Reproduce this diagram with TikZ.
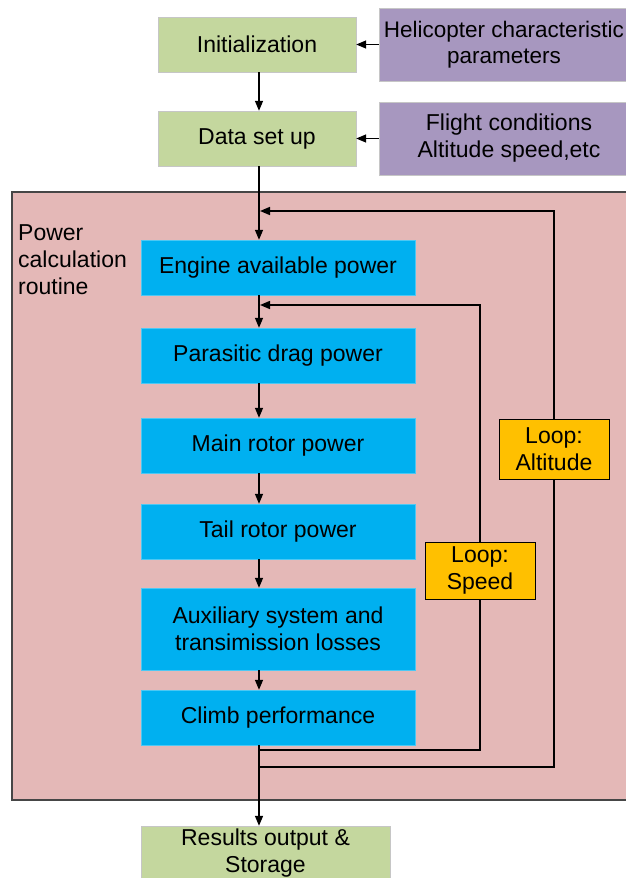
\documentclass[tikz,border=0pt]{standalone}
\usepackage{fontspec}
\setmainfont{Liberation Sans}
\usetikzlibrary{arrows.meta, positioning}
\definecolor{stagegreen}{HTML}{C4D79E}
\definecolor{inputpurple}{HTML}{A797BF}
\definecolor{routinepink}{HTML}{E4B8B7}
\definecolor{calcblue}{HTML}{00B0F0}
\definecolor{looporange}{HTML}{FFC000}

\begin{document}
\begin{tikzpicture}[
        x=1pt, y=-1pt,
        font=\fontsize{23}{27}\selectfont,
        stage/.style={draw=gray!45, fill=stagegreen, align=center,
                      minimum width=198pt, minimum height=55pt, inner sep=0pt},
        input/.style={draw=gray!45, fill=inputpurple, align=center,
                      minimum width=260pt, minimum height=73pt, inner sep=0pt},
        calc/.style={draw=calcblue!70!white, fill=calcblue, align=center,
                     minimum width=274pt, minimum height=55pt, inner sep=0pt},
        looplabel/.style={draw=black, fill=looporange, align=center,
                          minimum width=110pt, minimum height=57pt, inner sep=0pt},
        arr/.style={-{Triangle[length=10pt, width=8pt]}, line width=1.5pt},
      ]
        \useasboundingbox (0,0) rectangle (626,878);
        \clip (0,0) rectangle (626,878);

        % routine frame
        \node[draw=gray!55!black, line width=1.2pt, fill=routinepink,
              minimum width=628pt, minimum height=608pt, inner sep=0pt]
              (routine) at (326,496) {};
        \node[align=left, anchor=west, inner sep=0pt] (routinelabel) at (18,260)
              {Power\\calculation\\routine};

        \node[stage] (init)  at (257,44.5)  {Initialization};
        \node[stage] (setup) at (257,138.5) {Data set up};
        \node[input, minimum width=250pt, font=\fontsize{22.5}{26}\selectfont]
              (heli)   at (504,44.5)  {Helicopter characteristic\\parameters};
        \node[input] (flight) at (509,138.5) {Flight conditions\\Altitude speed,etc};

        \node[calc] (engine)   at (278,267.5) {Engine available power};
        \node[calc] (drag)     at (278,355.5) {Parasitic drag power};
        \node[calc] (mainrot)  at (278,445.5) {Main rotor power};
        \node[calc] (tailrot)  at (278,531.5) {Tail rotor power};
        \node[calc, minimum height=82pt] (aux) at (278,629)
              {Auxiliary system and\\transimission losses};
        \node[calc] (climb)    at (278,717.5) {Climb performance};

        \node[stage, minimum width=249pt] (results) at (265.5,853.5)
              {Results output \&\\Storage};

        \coordinate (trunk)  at (259,0);
        \coordinate (spd)    at (480,750);
        \coordinate (spdtop) at (480,305);
        \coordinate (alt)    at (554,767);
        \coordinate (alttop) at (554,211);

        \draw[arr] (heli.west |- init)  -- (init);
        \draw[arr] (flight) -- (setup);
        \draw[arr] (init.south -| trunk)  -- (setup.north -| trunk);
        \draw[arr] (setup.south -| trunk) -- (engine.north -| trunk);
        \draw[arr] (engine.south -| trunk)  -- (drag.north -| trunk);
        \draw[arr] (drag.south -| trunk)    -- (mainrot.north -| trunk);
        \draw[arr] (mainrot.south -| trunk) -- (tailrot.north -| trunk);
        \draw[arr] (tailrot.south -| trunk) -- (aux.north -| trunk);
        \draw[arr] (aux.south -| trunk)     -- (climb.north -| trunk);
        \draw[arr] (climb.south -| trunk)   -- (results.north -| trunk);

        % loops back to the trunk
        \draw[arr] (trunk |- spd) -- (spd) -- (spdtop) -- ([xshift=1pt]trunk |- spdtop);
        \draw[arr] (trunk |- alt) -- (alt) -- (alttop) -- ([xshift=1pt]trunk |- alttop);

        \node[looplabel] (loopspeed) at (480,570.5) {Loop:\\Speed};
        \node[looplabel, minimum height=60pt] (loopalt) at (554,449) {Loop:\\Altitude};
      \end{tikzpicture}
\end{document}
